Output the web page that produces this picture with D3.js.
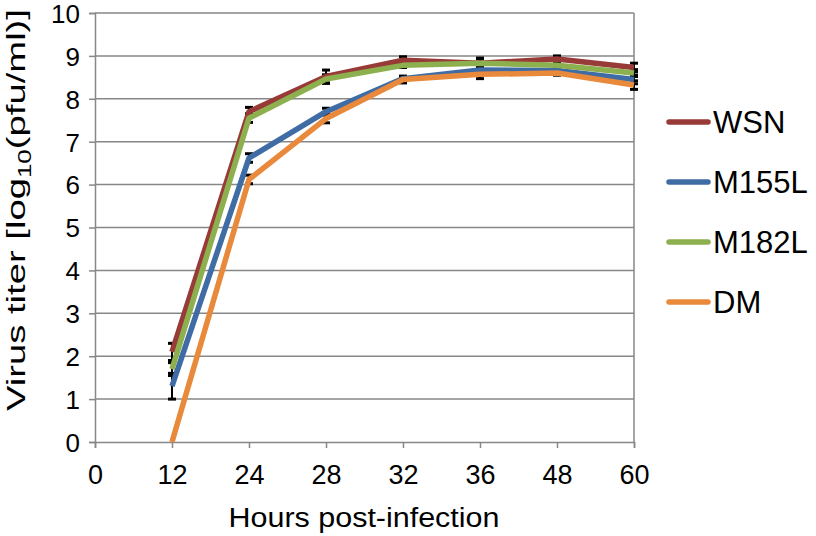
<!DOCTYPE html>
<html>
<head>
<meta charset="utf-8">
<script src="https://cdn.jsdelivr.net/npm/d3@7"></script>
<style>
  body { margin: 0; background: #fff; }
  text { font-family: "Liberation Sans", Arial, sans-serif; fill: #000; }
</style>
</head>
<body>
<svg id="chart" width="816" height="536"></svg>
<script>
const hours = ["0", "12", "24", "28", "32", "36", "48", "60"];
const yTicks = [0, 1, 2, 3, 4, 5, 6, 7, 8, 9, 10];
const seriesNames = ["WSN", "M155L", "M182L", "DM"];
const seriesColors = ["#983B38", "#3F6CA4", "#8DB04F", "#E8893B"];
// values at 12..60 h (no value at 0 h)
const wsnValues   = [2.1, 7.7, 8.52, 8.9, 8.83, 8.93, 8.73];
const m155lValues = [1.3, 6.62, 7.7, 8.47, 8.67, 8.66, 8.45];
const m182lValues = [1.7, 7.55, 8.46, 8.78, 8.83, 8.78, 8.6];
const dmValues    = [0.0, 6.12, 7.54, 8.45, 8.57, 8.6, 8.32];
const wsnErr   = [0.2, 0.1, 0.15, 0.08, 0.12, 0.07, 0.1];
const m155lErr = [0.3, 0.1, 0.08, 0.05, 0.08, 0.05, 0.1];
const m182lErr = [0.15, 0.1, 0.1, 0.05, 0.1, 0.05, 0.08];
const dmErr    = [0.0, 0.1, 0.1, 0.08, 0.1, 0.05, 0.1];
const dataHours = hours.slice(1);

const series = [
  { name: seriesNames[0], color: seriesColors[0], values: wsnValues, err: wsnErr },
  { name: seriesNames[1], color: seriesColors[1], values: m155lValues, err: m155lErr },
  { name: seriesNames[2], color: seriesColors[2], values: m182lValues, err: m182lErr },
  { name: seriesNames[3], color: seriesColors[3], values: dmValues, err: dmErr }
];

const svg = d3.select("#chart");
const L = 95, R = 634, T = 13, B = 442;
const x = d3.scalePoint().domain(hours).range([L, R]).padding(0);
const y = d3.scaleLinear().domain([0, 10]).range([B, T]);
const grid = "#878787";

// gridlines
svg.append("g").selectAll("line").data(yTicks.filter(d => d > 0)).join("line")
  .attr("x1", L).attr("x2", R).attr("y1", d => y(d)).attr("y2", d => y(d))
  .attr("stroke", grid).attr("stroke-width", 1.5);
// right border
svg.append("line").attr("x1", R).attr("x2", R).attr("y1", T).attr("y2", B)
  .attr("stroke", grid).attr("stroke-width", 1.5);

// axes
const yAxis = svg.append("g").attr("transform", `translate(${L},0)`)
  .call(d3.axisLeft(y).tickValues(yTicks).tickSize(6).tickPadding(9).tickFormat(d3.format("d")));
const xAxis = svg.append("g").attr("transform", `translate(0,${B})`)
  .call(d3.axisBottom(x).tickSize(6).tickPadding(10));
[yAxis, xAxis].forEach(a => {
  a.select(".domain").attr("stroke", grid).attr("stroke-width", 1.5);
  a.selectAll(".tick line").attr("stroke", grid).attr("stroke-width", 1.5);
  a.selectAll(".tick text").attr("font-size", 26).attr("font-family", '"Liberation Sans", Arial, sans-serif').attr("fill", "#000");
});
yAxis.selectAll(".tick text").attr("dy", "0.36em");
xAxis.selectAll(".tick text").attr("font-size", 27).attr("dy", "0.95em");

// error bars
const eg = svg.append("g");
series.forEach(s => {
  s.values.forEach((v, i) => {
    const e = s.err[i];
    if (e <= 0) return;
    const cx = x(dataHours[i]);
    eg.append("line").attr("x1", cx).attr("x2", cx)
      .attr("y1", y(v - e)).attr("y2", y(v + e))
      .attr("stroke", "#000").attr("stroke-width", 2);
    [v - e, v + e].forEach(t => {
      eg.append("line").attr("x1", cx - 4).attr("x2", cx + 4)
        .attr("y1", y(t)).attr("y2", y(t))
        .attr("stroke", "#000").attr("stroke-width", 3);
    });
  });
});

// lines
const line = d3.line().x((d, i) => x(dataHours[i])).y(d => y(d));
series.forEach(s => {
  svg.append("path").datum(s.values).attr("d", line)
    .attr("fill", "none").attr("stroke", s.color).attr("stroke-width", 5.5)
    .attr("stroke-linejoin", "round");
});

// legend
const legendY = [122, 182, 242, 302];
series.forEach((s, i) => {
  svg.append("line").attr("x1", 669).attr("x2", 708)
    .attr("y1", legendY[i]).attr("y2", legendY[i])
    .attr("stroke", s.color).attr("stroke-width", 5.5).attr("stroke-linecap", "round");
  svg.append("text").attr("x", 713).attr("y", legendY[i] + 11)
    .attr("font-size", 31).text(s.name);
});

// axis titles
svg.append("text").attr("x", 364).attr("y", 527).attr("text-anchor", "middle")
  .attr("font-size", 27).attr("textLength", 271).attr("lengthAdjust", "spacingAndGlyphs")
  .text("Hours post-infection");
const yt = svg.append("text").attr("transform", "translate(25,210) rotate(-90)")
  .attr("text-anchor", "middle").attr("font-size", 26.5)
  .attr("textLength", 402).attr("lengthAdjust", "spacingAndGlyphs");
yt.append("tspan").text("Virus titer [log");
yt.append("tspan").attr("font-size", 18).attr("dy", 6).text("10");
yt.append("tspan").attr("dy", -6).text("(pfu/ml)]");
</script>
</body>
</html>
